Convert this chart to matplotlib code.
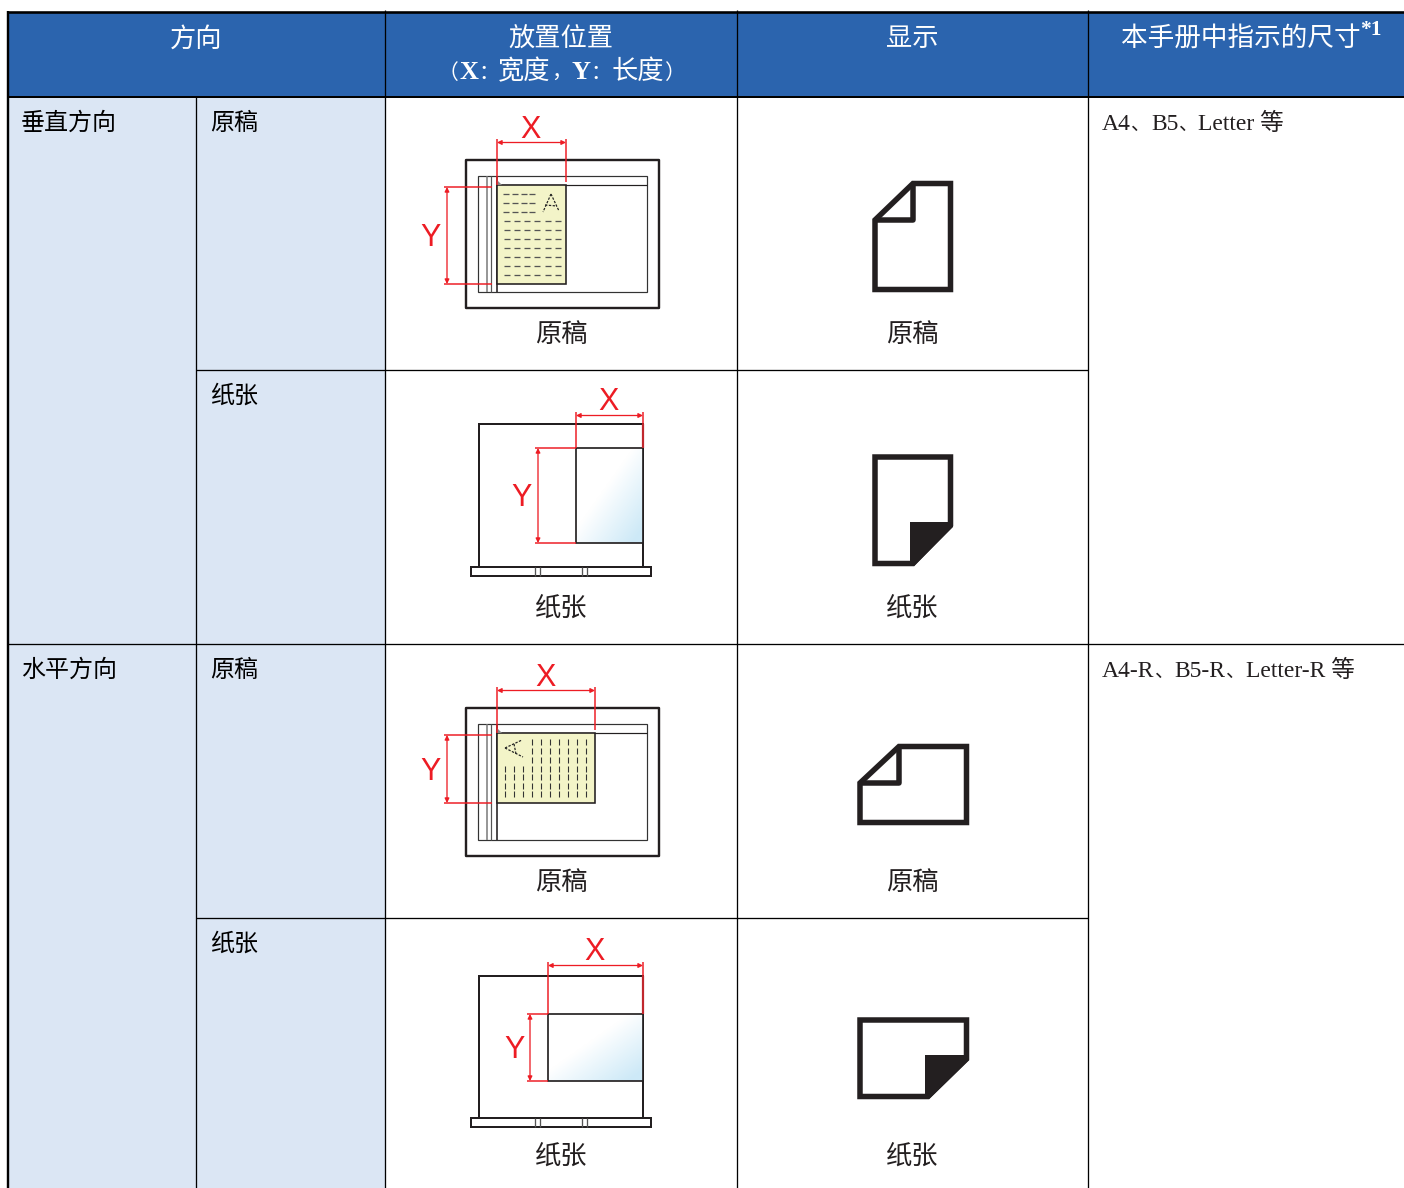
import numpy as np
import matplotlib
matplotlib.use("Agg")
import matplotlib.pyplot as plt
from matplotlib.patches import Polygon, Rectangle
from matplotlib.colors import LinearSegmentedColormap

# ─── texts ────────────────────────────────────────────────────────────────────

headers = ["方向", "放置位置", "显示"]
header_sub = ["（", "X", "：", "宽度", "，", "Y", "：", "长度", "）"]
header_sub_left = [438, 459, 478, 498, 551, 572, 590, 612, 664]
header_size = "本手册中指示的尺寸"
header_note = "*1"
orientations = ["垂直方向", "水平方向"]
kinds = ["原稿", "纸张", "原稿", "纸张"]
sizes = [["A4", "B5", "Letter 等"], ["A4-R", "B5-R", "Letter-R 等"]]

# ─── style ────────────────────────────────────────────────────────────────────

W, H = 1404, 1188
BLUE = "#2B64AE"
LIGHT = "#DBE6F4"
RED = "#ED1C24"
INK = "#231F20"
PAPER = "#F3F4C8"
SERIF = ["Liberation Serif", "Noto Sans CJK SC"]
CJK = ["Noto Sans CJK SC", "DejaVu Sans"]

COL = [8, 196, 385, 737, 1088, W]
ROW = [12, 97, 370, 644, 918, H]

fig = plt.figure(figsize=(W / 100, H / 100), dpi=100)
ax = fig.add_axes([0, 0, 1, 1])
ax.set_xlim(0, W)
ax.set_ylim(H, 0)
ax.axis("off")


def px(n):
    return n * 0.72


def seg(xs, ys, color="black", lw=1.0, z=3, **kw):
    ax.plot(xs, ys, color=color, lw=px(lw), zorder=z, solid_capstyle=kw.pop("cap", "butt"), **kw)


def label(x, y, s, size=18.9, color="black", ha="center", family=CJK, **kw):
    # у CJK-шрифта центр строки выше визуального, поэтому +2
    ax.text(x, y + 2, s, fontsize=size, color=color, ha=ha, va="center", family=family, **kw)


def size_line(x, y, parts):
    # "、" в оригинале у́же полной ширины: ставим его мельче, чтобы рамки не пересекались
    rend = fig.canvas.get_renderer()
    for i, s in enumerate(parts):
        t = ax.text(x, y, s, fontsize=17, color=INK, ha="left", va="baseline", family=SERIF)
        x += t.get_window_extent(rend).width + 0.5
        if i < len(parts) - 1:
            ax.text(x, y, "、", fontsize=13.8, color=INK, ha="left", va="baseline", family=SERIF)
            x += 19.5


# ─── table ────────────────────────────────────────────────────────────────────

ax.add_patch(Rectangle((COL[0], ROW[0]), W - COL[0], ROW[1] - ROW[0], fc=BLUE, ec="none", zorder=1))
ax.add_patch(Rectangle((COL[0], ROW[1]), COL[2] - COL[0], H - ROW[1], fc=LIGHT, ec="none", zorder=1))

seg([COL[0], W], [ROW[0], ROW[0]], lw=2.6, z=4)
seg([COL[0], W], [ROW[1], ROW[1]], lw=2, z=4)
seg([COL[0], COL[0]], [ROW[0] - 1, H], lw=2.4, z=4)
seg([COL[0], W], [ROW[3], ROW[3]], lw=1.3)
seg([COL[1], COL[4]], [ROW[2], ROW[2]], lw=1.3)
seg([COL[1], COL[4]], [ROW[4], ROW[4]], lw=1.3)
seg([COL[1], COL[1]], [ROW[1], H], lw=1.3)
for c in COL[2:5]:
    seg([c, c], [10, H], lw=1.3)

label((COL[0] + COL[2]) / 2, 37, headers[0], color="white")
label((COL[2] + COL[3]) / 2, 37, headers[1], color="white")
label((COL[3] + COL[4]) / 2, 37, headers[2], color="white")
for s, x in zip(header_sub, header_sub_left):
    bold = s in "XY"
    fs = 18.9 if bold or len(s) > 1 else 15
    ax.text(x, 79, s, fontsize=fs, color="white", va="baseline", family=SERIF,
            fontweight="bold" if bold else "normal")
label(1121, 37, header_size, size=19.2, color="white", ha="left")
ax.text(1360, 35, header_note, fontsize=15.5, color="white", family=SERIF, fontweight="bold", va="baseline")

for r, s in zip((ROW[1], ROW[3]), orientations):
    label(21, r + 24, s, size=17.3, ha="left")
for r, s in zip(ROW[1:5], kinds):
    label(210, r + 24, s, size=17.3, ha="left")
    label((COL[2] + COL[3]) / 2, r + 236, s, color=INK, fontweight="light")
    label((COL[3] + COL[4]) / 2, r + 236, s, color=INK, fontweight="light")
for r, parts in zip((ROW[1], ROW[3]), sizes):
    size_line(1102, r + 33, parts)


# ─── диаграммы ────────────────────────────────────────────────────────────────

ARROW = dict(arrowstyle="<|-|>", color=RED, lw=px(1.3), mutation_scale=6.5, shrinkA=0, shrinkB=0)


def dim_x(x0, x1, top, bottoms, label_y):
    seg([x0, x0], [top, bottoms[0]], color=RED, lw=1.5, z=6)
    seg([x1, x1], [top, bottoms[1]], color=RED, lw=1.5, z=6)
    ax.annotate("", xy=(x0, top + 3.5), xytext=(x1, top + 3.5), zorder=6, arrowprops=ARROW)
    label((x0 + x1) / 2 - 1, label_y + 1, "X", size=22, color=RED, family="Liberation Sans")


def dim_y(y0, y1, left, right, label_x):
    seg([left, right], [y0, y0], color=RED, lw=1.5, z=6)
    seg([left, right], [y1, y1], color=RED, lw=1.5, z=6)
    ax.annotate("", xy=(left + 3, y0), xytext=(left + 3, y1), zorder=6, arrowprops=ARROW)
    label(label_x, (y0 + y1) / 2 + 1, "Y", size=22, color=RED, family="Liberation Sans")


def glass(dy, px1, py1):
    # стекло экспонирования с листом оригинала
    ax.add_patch(Rectangle((466, 160 + dy), 193, 148, fc="white", ec=INK, lw=px(2.4), zorder=2, joinstyle="round"))
    ax.add_patch(Rectangle((478, 176 + dy), 169, 116, fc="white", ec="#333333", lw=px(1.2), zorder=2))
    seg([497, 647], [185 + dy, 185 + dy], color=INK, lw=1.2)
    seg([487, 487], [176 + dy, 292 + dy], color="#777777", lw=1.5)
    seg([491, 491], [176 + dy, 292 + dy], color="#555555", lw=1.2)
    seg([497, 497], [176 + dy, 292 + dy], color=INK, lw=1.6)
    ax.add_patch(Rectangle((497, 185 + dy), px1 - 497, py1 - (185 + dy), fc=PAPER, ec=INK, lw=px(1.6), zorder=4))
    ax.add_patch(Polygon([(497, 180 + dy), (502, 185 + dy), (497, 185 + dy)], fc="#888888", ec="none", zorder=5))


def lines_portrait():
    for i, y in enumerate([194, 203, 212, 221, 230, 239, 248, 257, 266, 275]):
        n = 4 if i < 3 else 6
        x0 = 503 if i < 3 else 503.5
        for k in range(n):
            xs = x0 + k * (8.8 if i < 3 else 10.3)
            seg([xs, xs + 6], [y, y], color="#555555", lw=1.3, z=5)
    for a, b in [((551, 194), (543, 212)), ((551, 194), (559, 211)), ((545, 205), (557, 206))]:
        seg([a[0], b[0]], [a[1], b[1]], color="#222222", lw=1.2, z=5, ls=(0, (2, 1.2)))


def lines_landscape():
    cols = [505, 514, 523, 532, 541, 550, 559, 568, 577, 586]
    rows = [742, 751, 760, 769, 777, 786, 794]
    for i, x in enumerate(cols):
        for j, y in enumerate(rows):
            if i < 3 and j < 3:
                continue
            seg([x, x], [y - 3, y + 3], color="#333333", lw=1.1, z=5)
    for a, b in [((505, 748), (522, 740)), ((505, 748), (523, 757)), ((514, 744), (516, 754))]:
        seg([a[0], b[0]], [a[1], b[1]], color="#222222", lw=1.2, z=5, ls=(0, (2, 1.2)))


def tray(top, base, sx, sy0, sy1):
    # кассета с бумагой, градиент в правом нижнем углу листа
    ax.add_patch(Rectangle((479, top), 164, base - top, fc="white", ec=INK, lw=px(2), zorder=2))
    ax.add_patch(Rectangle((471, base), 180, 9, fc="white", ec=INK, lw=px(2), zorder=3))
    for a, b in [(535, 540), (582, 587)]:
        seg([a, a], [base, base + 9], color="#555555", lw=1.3, z=4)
        seg([b, b], [base, base + 9], color="#555555", lw=1.3, z=4)
    gx, gy = np.meshgrid(np.linspace(0, 1, 80), np.linspace(0, 1, 80))
    grad = np.clip(gx + gy - 0.85, 0, 1) / 1.15
    cmap = LinearSegmentedColormap.from_list("g", ["#FFFFFF", "#C6E6F6"])
    ax.imshow(grad, extent=(sx, 643, sy1, sy0), cmap=cmap, aspect="auto", zorder=3, vmin=0, vmax=1)
    ax.add_patch(Rectangle((sx, sy0), 643 - sx, sy1 - sy0, fc="none", ec=INK, lw=px(1.7), zorder=4))
    seg([643, 643], [top, sy0], color="#C0272D", lw=2.2, z=6)


glass(0, 566, 284)
lines_portrait()
dim_x(497, 566, 139, (185, 182), 127)
dim_y(187, 284, 444, 492, 431)

tray(424, 567, 576, 448, 543)
dim_x(576, 643, 412, (448, 424), 399)
dim_y(448, 543, 535, 576, 522)

glass(548, 595, 803)
lines_landscape()
dim_x(497, 595, 687, (733, 730), 675)
dim_y(735, 803, 444, 492, 431)

tray(976, 1118, 548, 1014, 1081)
dim_x(548, 643, 962, (1014, 976), 949)
dim_y(1014, 1081, 527, 548, 515)


# ─── значки ───────────────────────────────────────────────────────────────────

def icon(points, fold=None, corner=None):
    ax.add_patch(Polygon(points, closed=True, fc="white", ec=INK, lw=px(5.5), joinstyle="miter", zorder=3))
    if fold:
        seg([p[0] for p in fold], [p[1] for p in fold], color=INK, lw=5.5, z=4)
    if corner:
        ax.add_patch(Polygon(corner, closed=True, fc=INK, ec="none", zorder=4))


icon([(875, 220), (913, 183.5), (950.5, 183.5), (950.5, 289.5), (875, 289.5)],
     fold=[(875, 220), (913, 220), (913, 183.5)])
icon([(875, 457), (950.5, 457), (950.5, 525), (913, 563.5), (875, 563.5)],
     corner=[(910, 522), (953, 522), (953, 527), (914, 566), (910, 566)])
icon([(860, 783), (899, 746.5), (966.5, 746.5), (966.5, 822.5), (860, 822.5)],
     fold=[(860, 783), (899, 783), (899, 746.5)])
icon([(860, 1020), (966.5, 1020), (966.5, 1059), (928, 1096.5), (860, 1096.5)],
     corner=[(925, 1055), (969, 1055), (969, 1060), (929, 1099), (925, 1099)])

ax.set_xlim(0, W)
ax.set_ylim(H, 0)

fig.savefig("out.png", dpi=100, facecolor="white")
